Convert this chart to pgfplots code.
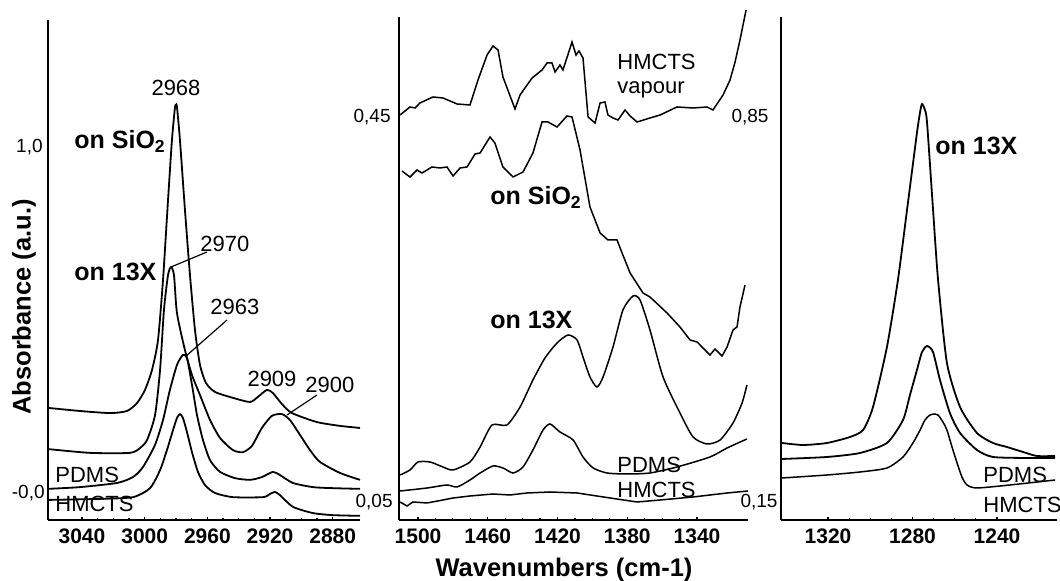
\documentclass[border=0pt]{standalone}
\usepackage{fontspec}
\setmainfont{Liberation Sans}
\usepackage{pgfplots}
\pgfplotsset{compat=1.18}

\pgfplotsset{
  spec/.style={
    scale only axis, anchor=south west,
    axis x line*=bottom, axis y line*=left, axis line style={-},
    x dir=reverse, ytick=\empty, clip=false,
    tick align=inside, major tick length=1.6pt, minor tick length=1pt,
    minor x tick num=3, tick style={black, line width=0.6pt},
    x axis line style={line width=1pt}, y axis line style={line width=1.4pt},
    xticklabel style={font=\fontsize{10.5}{12}\selectfont\bfseries, yshift=-1pt},
    cycle list={{black}},
    every axis plot/.append style={black, line width=0.9pt, no marks},
  }
}

\begin{document}
\begin{tikzpicture}
\useasboundingbox (0,0) rectangle (530pt,290.5pt);

% C-H stretch region
\begin{axis}[spec, at={(24pt,30.5pt)}, width=156pt, height=250pt,
  xmin=2862.6, xmax=3061.7, ymin=-0.078, ymax=1.367,
  xtick={3040,3000,2960,2920,2880}, xticklabels={3040,3000,2960,2920,2880}]
  % on SiO2
  \addplot[black, smooth, tension=0.4] coordinates {
    (3061.7,0.246)(3041.3,0.237)(3022.1,0.231)(3011.3,0.237)(3004.9,0.260)(2999.8,0.298)
    (2995.3,0.356)(2991.5,0.442)(2988.3,0.616)(2985.1,0.847)(2982.6,1.020)(2980.7,1.113)
    (2980.0,1.121)(2979.4,1.116)(2977.5,1.020)(2974.3,0.818)(2971.1,0.630)(2967.9,0.471)
    (2964.7,0.370)(2960.9,0.318)(2955.1,0.292)(2943.7,0.275)(2932.8,0.263)(2927.7,0.278)
    (2922.0,0.298)(2918.2,0.289)(2912.4,0.257)(2906.0,0.231)(2890.1,0.205)(2875.4,0.194)
    (2862.6,0.188)};
  % on 13X
  \addplot[black, smooth, tension=0.4] coordinates {
    (3061.7,0.127)(3034.9,0.116)(3009.4,0.116)(3003.0,0.130)(2998.5,0.153)(2993.4,0.225)
    (2990.2,0.355)(2987.7,0.529)(2985.1,0.630)(2983.2,0.653)(2981.3,0.630)(2979.4,0.520)
    (2974.3,0.413)(2969.8,0.341)(2964.7,0.283)(2958.3,0.211)(2951.9,0.159)(2943.7,0.124)
    (2937.3,0.118)(2931.6,0.136)(2925.2,0.188)(2918.8,0.223)(2912.4,0.228)(2907.3,0.211)
    (2900.9,0.168)(2894.5,0.124)(2888.2,0.090)(2875.4,0.058)(2862.6,0.038)};
  % PDMS
  \addplot[black, smooth, tension=0.4] coordinates {
    (3061.7,0.012)(3041.3,0.017)(3017.7,0.029)(3007.5,0.046)(3001.1,0.075)(2993.4,0.139)
    (2988.3,0.211)(2983.9,0.298)(2979.4,0.370)(2975.6,0.399)(2973.0,0.390)(2969.8,0.312)
    (2966.6,0.225)(2962.8,0.153)(2958.3,0.095)(2951.9,0.061)(2942.4,0.043)(2932.8,0.038)
    (2925.2,0.046)(2918.2,0.061)(2913.7,0.052)(2905.4,0.029)(2892.6,0.017)(2879.9,0.014)
    (2862.6,0.012)};
  % HMCTS
  \addplot[black, smooth, tension=0.4] coordinates {
    (3061.7,-0.020)(3028.5,-0.017)(3007.5,-0.012)(2996.6,0.014)(2990.2,0.066)(2985.8,0.124)
    (2981.9,0.182)(2979.4,0.217)(2977.5,0.228)(2975.6,0.217)(2973.0,0.176)(2969.8,0.118)
    (2966.0,0.061)(2961.5,0.023)(2955.1,0.000)(2943.7,-0.012)(2924.5,-0.012)(2920.1,-0.003)
    (2916.9,0.003)(2913.7,-0.006)(2905.4,-0.040)(2892.6,-0.058)(2879.9,-0.064)(2862.6,-0.066)};
\end{axis}

% CH3 deformation region
\begin{axis}[spec, at={(199.5pt,30.5pt)}, width=174.5pt, height=251.5pt,
  xmin=1310.8, xmax=1510.9, ymin=0, ymax=1.006,
  xtick={1500,1460,1420,1380,1340}, xticklabels={1500,1460,1420,1380,1340},
  every axis plot/.append style={line width=0.75pt}]
  % HMCTS vapour
  \addplot[black] coordinates {
    (1510.3,0.810)(1504.6,0.826)(1501.7,0.824)(1498.9,0.834)(1491.4,0.846)(1485.7,0.844)
    (1477.6,0.832)(1470.2,0.830)(1465.6,0.880)(1460.4,0.930)(1457.0,0.948)(1454.1,0.940)
    (1451.3,0.886)(1444.4,0.822)(1441.5,0.850)(1434.6,0.884)(1428.9,0.900)(1426.0,0.914)
    (1423.2,0.914)(1421.4,0.896)(1418.6,0.910)(1416.9,0.900)(1411.7,0.956)(1409.4,0.930)
    (1407.7,0.938)(1405.4,0.924)(1402.5,0.806)(1398.5,0.794)(1395.6,0.834)(1392.8,0.836)
    (1391.1,0.810)(1388.2,0.804)(1385.3,0.800)(1381.3,0.820)(1378.4,0.808)(1374.4,0.796)
    (1367.0,0.804)(1361.2,0.810)(1351.5,0.826)(1342.3,0.824)(1334.3,0.826)(1330.9,0.820)
    (1325.1,0.850)(1321.1,0.880)(1318.2,0.916)(1315.4,0.960)(1311.9,1.020)};
  % on SiO2
  \addplot[black] coordinates {
    (1509.2,0.698)(1504.6,0.686)(1500.6,0.700)(1497.7,0.694)(1492.0,0.706)(1487.4,0.704)
    (1483.4,0.706)(1479.9,0.688)(1475.9,0.704)(1471.9,0.706)(1467.3,0.732)(1464.4,0.734)
    (1458.7,0.766)(1455.9,0.754)(1451.3,0.706)(1445.5,0.686)(1439.8,0.696)(1434.1,0.734)
    (1428.9,0.796)(1425.5,0.796)(1420.3,0.786)(1414.6,0.808)(1411.7,0.806)(1407.1,0.740)
    (1403.1,0.660)(1401.4,0.626)(1395.6,0.574)(1391.1,0.560)(1385.9,0.560)(1383.0,0.534)
    (1378.4,0.494)(1371.0,0.454)(1367.0,0.446)(1357.2,0.414)(1349.8,0.386)(1344.0,0.360)
    (1340.0,0.356)(1332.6,0.330)(1329.7,0.342)(1325.7,0.328)(1322.8,0.346)(1319.4,0.380)
    (1317.1,0.386)(1315.4,0.426)(1312.5,0.470)};
  % on 13X
  \addplot[black, smooth, tension=0.4] coordinates {
    (1510.3,0.090)(1504.6,0.100)(1500.0,0.116)(1493.1,0.116)(1485.7,0.106)(1479.9,0.100)
    (1470.2,0.116)(1464.4,0.146)(1457.6,0.190)(1449.0,0.190)(1441.5,0.226)(1434.1,0.280)
    (1427.2,0.324)(1420.3,0.354)(1414.0,0.370)(1408.8,0.360)(1405.4,0.326)(1401.4,0.286)
    (1397.4,0.266)(1393.9,0.286)(1388.2,0.346)(1382.5,0.420)(1376.7,0.448)(1372.7,0.440)
    (1367.0,0.380)(1359.5,0.286)(1349.8,0.214)(1342.3,0.166)(1334.3,0.152)(1326.8,0.160)
    (1319.4,0.194)(1314.2,0.234)(1311.4,0.270)};
  % PDMS
  \addplot[black, smooth, tension=0.4] coordinates {
    (1510.3,0.058)(1494.8,0.064)(1483.4,0.070)(1477.6,0.066)(1470.2,0.080)(1464.4,0.094)
    (1457.0,0.108)(1451.3,0.104)(1445.5,0.094)(1439.8,0.106)(1434.1,0.140)(1428.3,0.180)
    (1424.3,0.192)(1418.6,0.176)(1411.1,0.160)(1405.4,0.126)(1399.6,0.104)(1391.6,0.094)
    (1380.2,0.092)(1367.0,0.094)(1351.5,0.106)(1332.6,0.126)(1322.8,0.144)(1311.4,0.162)};
  % HMCTS
  \addplot[black] coordinates {
    (1510.3,0.036)(1506.3,0.028)(1502.9,0.036)(1494.8,0.034)(1485.7,0.040)(1479.9,0.044)
    (1470.2,0.048)(1457.0,0.052)(1447.3,0.050)(1437.5,0.054)(1424.3,0.056)(1408.8,0.054)
    (1389.9,0.044)(1374.4,0.036)(1361.2,0.040)(1342.3,0.046)(1322.8,0.054)(1310.8,0.058)};
\end{axis}

% Si-CH3 region
\begin{axis}[spec, at={(390.5pt,30.5pt)}, width=138pt, height=251.5pt,
  xmin=1211.6, xmax=1342.25, ymin=0, ymax=1.006,
  xtick={1320,1280,1240}, xticklabels={1320,1280,1240}]
  % on 13X
  \addplot[black, smooth, tension=0.4] coordinates {
    (1341.8,0.154)(1331.8,0.150)(1320.5,0.154)(1309.6,0.166)(1303.4,0.180)(1298.7,0.226)
    (1292.1,0.346)(1286.9,0.480)(1282.6,0.620)(1277.9,0.774)(1276.4,0.816)(1275.5,0.832)
    (1274.1,0.820)(1273.1,0.794)(1270.3,0.622)(1267.9,0.480)(1263.7,0.314)(1257.5,0.226)
    (1249.5,0.174)(1241.9,0.154)(1235.3,0.146)(1227.7,0.136)(1221.1,0.128)(1212.5,0.128)};
  % PDMS
  \addplot[black, smooth, tension=0.4] coordinates {
    (1341.8,0.122)(1320.5,0.126)(1304.9,0.134)(1292.1,0.154)(1284.5,0.200)(1281.2,0.250)
    (1277.9,0.300)(1275.5,0.336)(1273.1,0.348)(1270.3,0.336)(1267.0,0.280)(1262.3,0.214)
    (1257.5,0.174)(1249.5,0.140)(1241.9,0.126)(1225.8,0.124)(1212.5,0.124)};
  % HMCTS
  \addplot[black, smooth, tension=0.4, line width=0.75pt] coordinates {
    (1341.8,0.084)(1320.5,0.090)(1304.9,0.096)(1292.1,0.104)(1284.5,0.126)(1279.8,0.154)
    (1276.4,0.180)(1274.1,0.200)(1271.7,0.210)(1269.4,0.212)(1267.9,0.210)(1265.6,0.196)
    (1263.7,0.180)(1261.3,0.146)(1258.9,0.114)(1256.6,0.086)(1254.2,0.070)(1249.5,0.064)
    (1233.9,0.070)(1212.5,0.080)};
\end{axis}

% annotations, placed in image pixel units
\begin{scope}[x=0.5pt, y=-0.5pt, yshift=290.5pt,
  lab/.style={font=\fontsize{11}{13}\selectfont, inner sep=0pt},
  bl/.style={font=\fontsize{12.5}{14}\selectfont\bfseries, inner sep=0pt},
  num/.style={font=\fontsize{9.5}{11}\selectfont, inner sep=0pt}]
  \node[font=\fontsize{12.75}{15}\selectfont\bfseries, rotate=90] at (24,307) {Absorbance (a.u.)};
  \node[font=\fontsize{12.75}{15}\selectfont\bfseries] at (564,570) {Wavenumbers (cm-1)};
  % left panel
  \node[num, anchor=east] at (43,147) {1,0};
  \node[num, anchor=east] at (45,493) {-0,0};
  \node[lab] at (176,88) {2968};
  \node[bl, anchor=west] at (74,141) {on SiO\textsubscript{2}};
  \node[lab, anchor=west] at (200,244) {2970};
  \draw[line width=0.6pt] (207,252) -- (171,267);
  \node[bl, anchor=west] at (74,272) {on 13X};
  \node[lab, anchor=west] at (210,307) {2963};
  \draw[line width=0.6pt] (227,320) -- (185,357);
  \node[lab] at (272,379) {2909};
  \node[lab, anchor=west] at (305,385) {2900};
  \draw[line width=0.6pt] (317,395) -- (287,415);
  \node[lab, anchor=west] at (55,475) {PDMS};
  \node[lab, anchor=west] at (55,504) {HMCTS};
  % middle panel
  \node[num, anchor=east] at (391,117) {0,45};
  \node[num, anchor=east] at (393,502) {0,05};
  \node[num] at (750,117) {0,85};
  \node[num] at (759,502) {0,15};
  \node[lab, anchor=west] at (617,62) {HMCTS};
  \node[lab, anchor=west] at (617,90) {vapour};
  \node[bl, anchor=west] at (490,197) {on SiO\textsubscript{2}};
  \node[bl, anchor=west] at (490,320) {on 13X};
  \node[lab, anchor=west] at (617,465) {PDMS};
  \node[lab, anchor=west] at (617,490) {HMCTS};
  % right panel
  \node[bl, anchor=west] at (935,146) {on 13X};
  \node[lab, anchor=west] at (983,475) {PDMS};
  \node[lab, anchor=west] at (983,505) {HMCTS};
\end{scope}
\end{tikzpicture}
\end{document}
